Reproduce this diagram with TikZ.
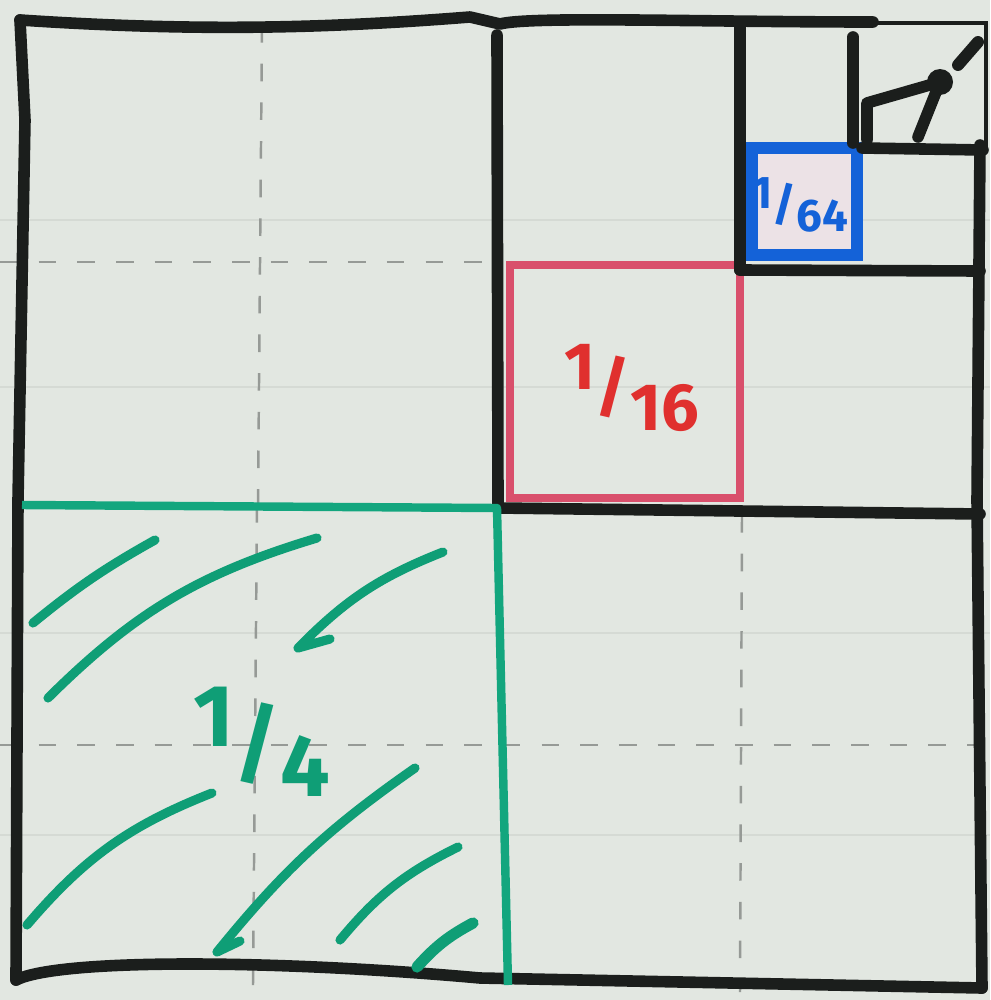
\documentclass[tikz,border=0pt]{standalone}
\usepackage{fontspec}
\setmainfont{Fira Sans}
\definecolor{paper}{HTML}{E2E7E1}
\definecolor{pen}{HTML}{1B1E1C}
\definecolor{markgreen}{HTML}{0F9E76}
\definecolor{edgegreen}{HTML}{13A67E}
\definecolor{markred}{HTML}{D9506C}
\definecolor{labelred}{HTML}{E0302E}
\definecolor{markblue}{HTML}{1462D8}
\definecolor{foldgray}{HTML}{969A96}
\definecolor{rulegray}{HTML}{D5DAD4}
\definecolor{tint}{HTML}{ECE2E6}
\begin{document}
\begin{tikzpicture}[x=0.01cm, y=-0.01cm,
  ink/.style={draw=pen, line width=3.3pt, line cap=round, line join=round},
  fold/.style={draw=foldgray, line width=0.7pt, dash pattern=on 5pt off 6pt},
  rule/.style={draw=rulegray, line width=0.5pt},
  hatch/.style={draw=markgreen, line width=2.6pt, line cap=round, line join=round},
  frac/.style={inner sep=0pt, font=\bfseries}]
\fill[paper] (0,0) rectangle (990,1000);
\useasboundingbox (0,0) rectangle (990,1000);
\foreach \y in {220,387,633,835} \draw[rule] (0,\y) -- (990,\y);
\draw[fold] (0,262) -- (497,262);
\draw[fold] (0,745) -- (980,745);
\draw[fold] (262,25) -- (258,505);
\draw[fold] (257,505) -- (253,985);
\draw[fold] (742,515) -- (740,992);
\coordinate (tl) at (20,20);
\coordinate (bl) at (16,980);
\coordinate (br) at (982,988);
\coordinate (mid) at (498,508);
\fill[tint] (752,148) rectangle (857,255);
\draw[markred, line width=2pt] (510,265) rectangle (740,498);
\draw[ink] (tl) .. controls (200,32) and (330,28) .. (470,17) -- (500,24) .. controls (530,16) and (700,22) .. (873,22);
\draw[pen, line width=1.1pt] (873,23) -- (986,23) -- (986,150);
\draw[ink] (tl) -- (25,120) -- (18,500) -- (bl);
\draw[ink] (bl) .. controls (60,958) and (280,960) .. (480,978) -- (br);
\draw[ink] (980,145) -- (977,500) -- (br);
\draw[ink] (497,35) -- (mid);
\draw[ink] (mid) -- (980,514);
\draw[ink] (740,25) -- (740,270);
\draw[ink] (740,270) -- (980,271);
\draw[markblue, line width=3.4pt] (752,148) rectangle (857,255);
\draw[ink] (853,37) -- (853,143);
\draw[ink] (862,148) -- (983,150);
\draw[ink] (867,140) -- (867,103) -- (940,82) -- (918,137);
\fill[pen] (940,82) circle (13);
\draw[ink, line width=3.4pt] (958,65) -- (978,42);
\draw[edgegreen, line width=2.4pt, line join=round] (22,505) -- (497,508) -- (508,985);
\draw[hatch] (33,623) to[bend left=5] (155,540);
\draw[hatch] (48,698) to[bend left=14] (317,538);
\draw[hatch] (330,639) -- (298,648) to[bend left=12] (443,552);
\draw[hatch] (27,925) to[bend left=14] (212,793);
\draw[hatch] (240,941) -- (217,952) to[bend left=8] (415,768);
\draw[hatch] (340,940) to[bend left=12] (458,847);
\draw[hatch, line width=3.2pt] (417,967) to[bend left=10] (473,923);
\node[frac, text=markgreen, font=\bfseries\fontsize{25}{25}\selectfont] (quarter) at (262,742) {\raisebox{.32em}{1}/\raisebox{-.25em}{4}};
\node[frac, text=labelred, font=\bfseries\fontsize{19}{19}\selectfont] (sixteenth) at (632,388) {\raisebox{.3em}{1}/\raisebox{-.3em}{16}};
\node[frac, text=markblue, font=\bfseries\fontsize{13}{13}\selectfont] (sixtyfourth) at (800,205) {\raisebox{.25em}{1}/\raisebox{-.25em}{64}};
\end{tikzpicture}
\end{document}
